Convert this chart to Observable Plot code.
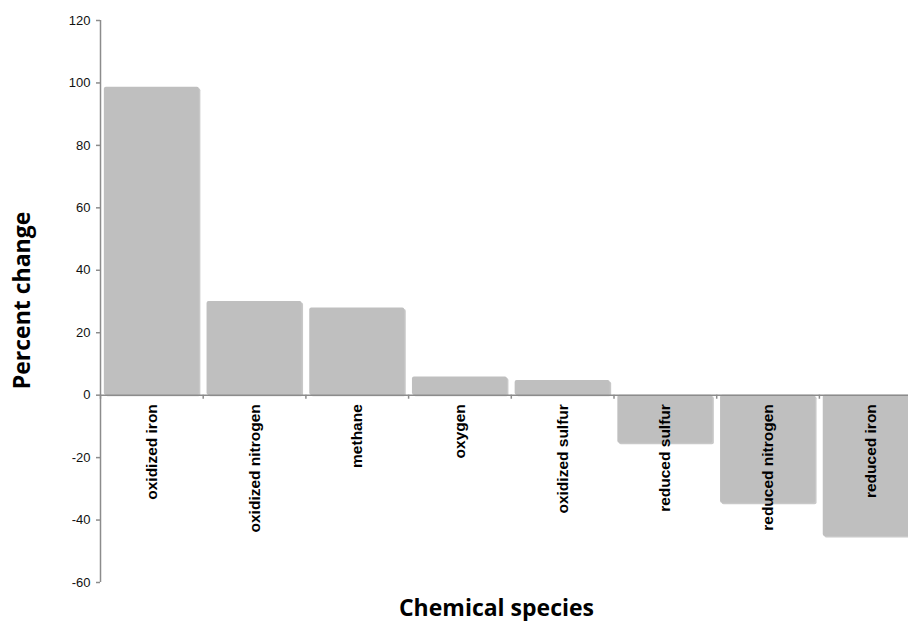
<!DOCTYPE html>
<html>
<head>
<meta charset="utf-8">
<script src="https://cdn.jsdelivr.net/npm/d3@7"></script>
<script src="https://cdn.jsdelivr.net/npm/@observablehq/plot@0.6"></script>
<style>
  html, body { margin: 0; padding: 0; background: #fff; overflow: hidden; }
  #chart svg { display: block; }
</style>
</head>
<body>
<div id="chart"></div>
<script>
const categories = ["oxidized iron", "oxidized nitrogen", "methane", "oxygen", "oxidized sulfur", "reduced sulfur", "reduced nitrogen", "reduced iron"];
const values = [98.6, 30.0, 27.9, 5.8, 4.7, -15.4, -34.6, -45.3];
const yTicks = [-60, -40, -20, 0, 20, 40, 60, 80, 100, 120];
const yTitle = "Percent change";
const xTitle = "Chemical species";

const data = categories.map((c, i) => ({category: c, value: values[i]}));

const W = 908, H = 621;
const xRange = [100, 921.6];
const nBands = categories.length;
const step = (xRange[1] - xRange[0]) / nBands;
const axisColor = "#8c8c8c";

const chart = Plot.plot({
  width: W,
  height: H,
  marginTop: 20,
  marginBottom: 39,
  marginLeft: 100,
  marginRight: 0,
  style: {background: "#fff", fontFamily: "Liberation Sans, Arial, sans-serif"},
  x: {domain: categories, range: xRange, round: false, paddingInner: 0.075, paddingOuter: 0.0375, axis: null},
  y: {domain: [-60, 120], axis: null},
  marks: [
    // bar shadows
    Plot.barY(data, {x: "category", y: "value", fill: "#9a9a9a", fillOpacity: 0.55, dx: 1.5, dy: 1.5, rx: 2}),
    // bars
    Plot.barY(data, {x: "category", y: "value", fill: "#bfbfbf", rx: 2}),
    // zero line
    Plot.ruleY([0], {stroke: axisColor, strokeWidth: 1.5}),
    // ticks at band boundaries on zero line
    Plot.ruleX(categories, {x: d => d, y1: 0, y2: -1.3, dx: -step / 2, stroke: axisColor, strokeWidth: 1.5}),
    // y axis line
    Plot.ruleX([categories[0]], {x: d => d, y1: -60, y2: 120, dx: -step / 2, stroke: axisColor, strokeWidth: 1.5}),
    // y axis ticks and labels
    Plot.axisY({
      ticks: yTicks,
      tickFormat: d => String(d),
      tickSize: 4,
      tickPadding: 6,
      stroke: axisColor,
      strokeWidth: 1.5,
      fill: "#111",
      fontSize: 13,
      label: null
    }),
    // category labels
    Plot.text(data, {
      x: "category",
      y: 0,
      text: "category",
      rotate: -90,
      textAnchor: "end",
      dy: 9,
      fontSize: 15.5,
      fontWeight: "bold",
      fill: "#000"
    }),
    // y title
    Plot.text([yTitle], {
      frameAnchor: "left",
      text: d => d,
      rotate: -90,
      textAnchor: "middle",
      dx: -78,
      dy: -1,
      fontSize: 23,
      fontWeight: "bold",
      fontFamily: "Open Sans, sans-serif",
      fill: "#000"
    }),
    // x title
    Plot.text([xTitle], {
      frameAnchor: "bottom-left",
      text: d => d,
      textAnchor: "middle",
      dx: 396,
      dy: 33,
      fontSize: 23,
      fontWeight: "bold",
      fontFamily: "Open Sans, sans-serif",
      fill: "#000"
    })
  ]
});

document.getElementById("chart").appendChild(chart);
</script>
</body>
</html>
